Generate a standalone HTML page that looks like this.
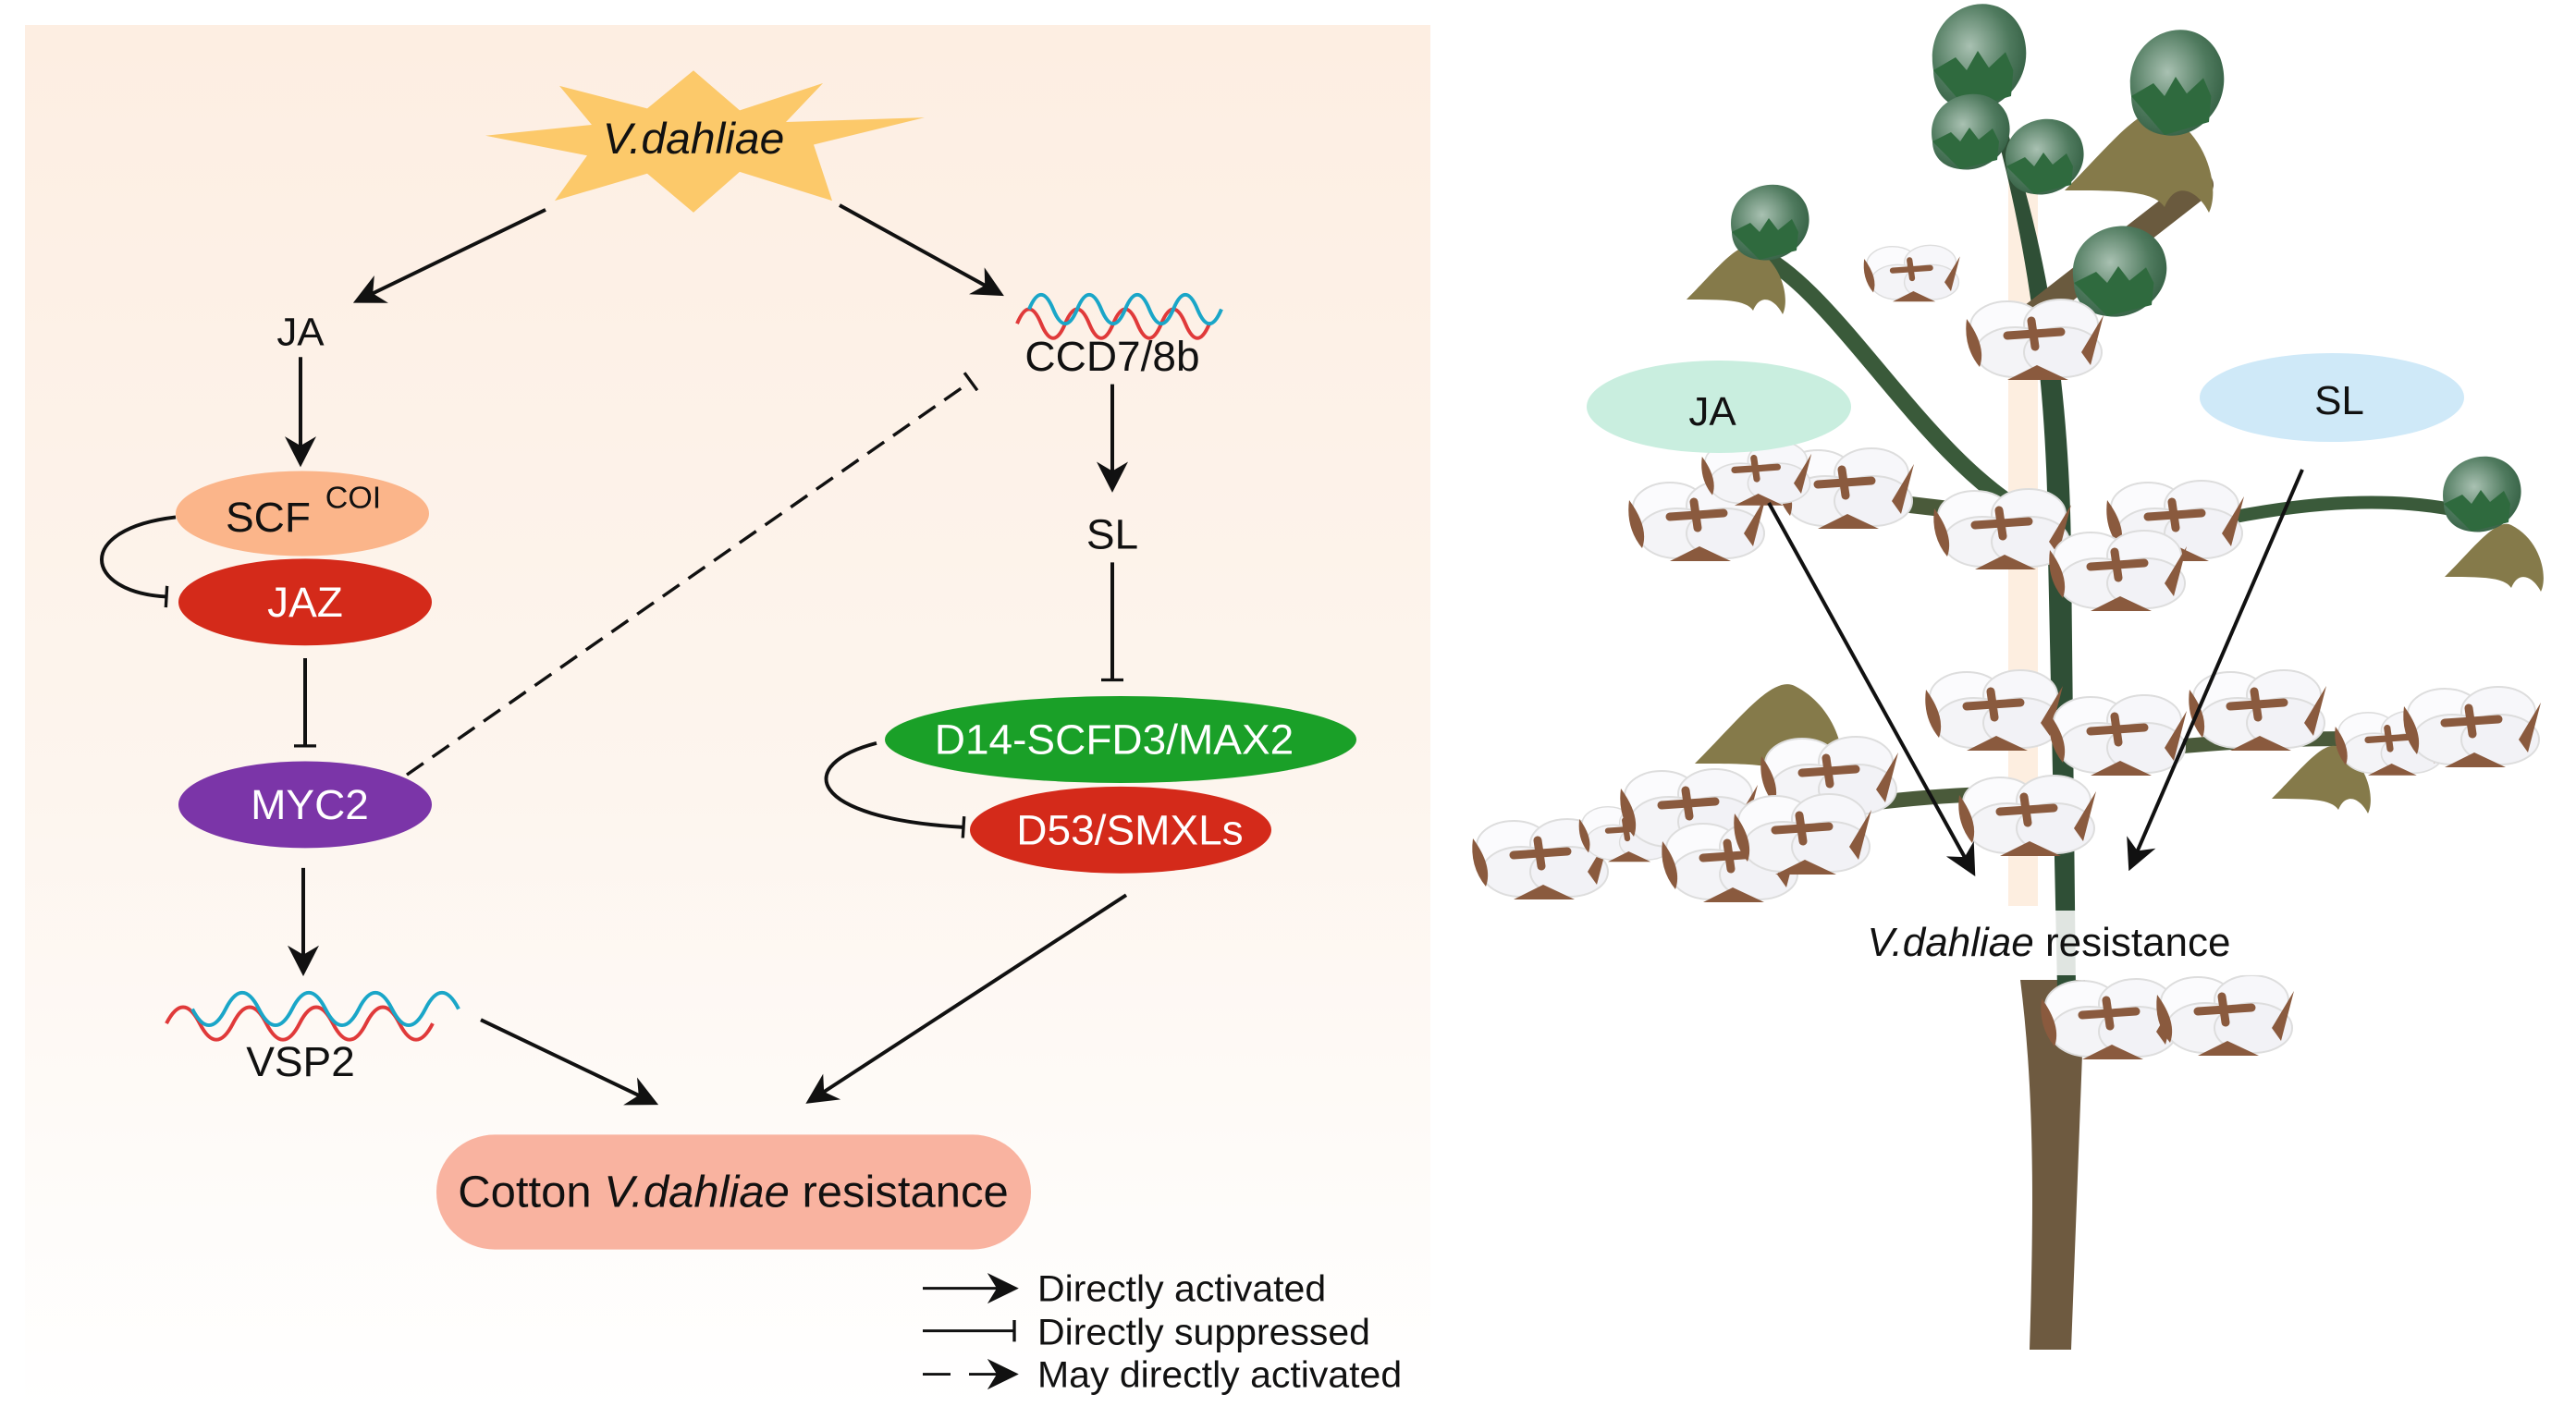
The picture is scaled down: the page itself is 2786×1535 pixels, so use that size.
<!DOCTYPE html>
<html><head><meta charset="utf-8"><style>
html,body{margin:0;padding:0;background:#fff}
svg{display:block}
text{font-family:"Liberation Sans",Arial,sans-serif}
</style></head><body>
<svg width="2786" height="1535" viewBox="0 0 2786 1535" xmlns="http://www.w3.org/2000/svg">
<defs>
<linearGradient id="bg" x1="0" y1="0" x2="0" y2="1">
<stop offset="0" stop-color="#fdeee2"/><stop offset="0.55" stop-color="#fdf5ee"/><stop offset="1" stop-color="#ffffff"/>
</linearGradient>
<marker id="ahb" viewBox="0 0 10 10" refX="8" refY="5" markerWidth="34" markerHeight="34" orient="auto" markerUnits="userSpaceOnUse">
<path d="M0,0 L10,5 L0,10 L3,5 z" fill="#111"/></marker>
<marker id="bar" viewBox="0 0 10 10" refX="5" refY="5" markerWidth="24" markerHeight="24" orient="auto" markerUnits="userSpaceOnUse">
<line x1="5" y1="0" x2="5" y2="10" stroke="#111" stroke-width="1.4"/></marker>
<radialGradient id="lf" cx="0.4" cy="0.4" r="0.7"><stop offset="0" stop-color="#a9c1b2"/><stop offset="0.6" stop-color="#4f7a5e"/><stop offset="1" stop-color="#2f5a3e"/></radialGradient>
<g id="boll">
<ellipse cx="-30" cy="-12" rx="40" ry="27" fill="#fbfbfd" stroke="#ddd" stroke-width="2"/>
<ellipse cx="28" cy="-14" rx="40" ry="27" fill="#f7f7fa" stroke="#ddd" stroke-width="2"/>
<ellipse cx="-22" cy="16" rx="42" ry="27" fill="#f4f4f7" stroke="#ddd" stroke-width="2"/>
<ellipse cx="30" cy="16" rx="42" ry="27" fill="#f2f2f6" stroke="#ddd" stroke-width="2"/>
<path d="M-74,-20 Q-52,10 -60,32 Q-78,10 -74,-20z" fill="#8a5a3e"/>
<path d="M74,-24 L60,30 L50,16z" fill="#8a5a3e"/>
<path d="M-30,46 L2,30 L36,46z" fill="#8a5a3e"/>
<path d="M-30,-2 L28,-6 M-4,-18 L0,10" stroke="#8a5a3e" stroke-width="9" stroke-linecap="round"/>
</g>
<g id="leaf"><path d="M-40,10 C-50,-40 20,-60 40,-20 C55,15 20,45 -10,40 C-30,38 -40,25 -40,10z" fill="url(#lf)"/><path d="M-40,10 L-20,0 -10,10 0,-5 10,8 25,-4 32,10 30,30 -10,40z" fill="#2f6a3e"/></g>
<g id="oleaf"><path d="M-70,30 C-30,-10 0,-50 20,-40 C60,-20 70,30 60,50 C50,30 30,20 20,45 C10,30 -20,30 -70,30z" fill="#857a4a"/></g>
</defs>

<rect x="27" y="27" width="1520" height="1500" fill="url(#bg)"/>

<g transform="matrix(1,0,0,0.978,0,0)">
<polygon points="750,78 800,122 890,92 850,135 1000,130 880,160 900,222 800,190 750,235 700,192 600,222 635,172 525,150 640,138 605,95 700,120" fill="#fcc96a"/>
<text x="750" y="170" font-size="48" font-style="italic" text-anchor="middle" fill="#111">V.dahliae</text>

<g stroke="#111" stroke-width="4" fill="none">
<line x1="590" y1="232" x2="388" y2="332" marker-end="url(#ahb)"/>
<line x1="908" y1="227" x2="1080" y2="324" marker-end="url(#ahb)"/>
<line x1="325" y1="395" x2="325" y2="510" marker-end="url(#ahb)"/>
<path d="M190,572 C80,585 90,655 180,660" marker-end="url(#bar)"/>
<line x1="330" y1="728" x2="330" y2="825" marker-end="url(#bar)"/>
<line x1="440" y1="857" x2="1050" y2="422" stroke-dasharray="22,12" stroke-width="3.5" marker-end="url(#bar)"/>
<line x1="328" y1="960" x2="328" y2="1073" marker-end="url(#ahb)"/>
<line x1="520" y1="1128" x2="706" y2="1219" marker-end="url(#ahb)"/>
<line x1="1203" y1="425" x2="1203" y2="538" marker-end="url(#ahb)"/>
<line x1="1203" y1="622" x2="1203" y2="752" marker-end="url(#bar)"/>
<path d="M948,822 C860,845 870,905 1042,915" marker-end="url(#bar)"/>
<line x1="1218" y1="990" x2="877" y2="1217" marker-end="url(#ahb)"/>
</g>

<text x="325" y="382" font-size="44" text-anchor="middle" fill="#111">JA</text>
<path d="M1100,358 q13,-32 26,0 t26,0 t26,0 t26,0 t26,0 t26,0 t26,0 t26,0" stroke="#e03a3a" stroke-width="4" fill="none"/>
<path d="M1120,358 q13,-32 26,0 t26,0 t26,0 t26,0 t26,0 t26,0 t26,0 t26,0" stroke="#1aa6c8" stroke-width="4" fill="none" transform="translate(-7,-16) scale(1,1)"/>
<text x="1203" y="410" font-size="46" text-anchor="middle" fill="#111">CCD7/8b</text>

<ellipse cx="327" cy="568" rx="137" ry="47" fill="#fbb58a"/>
<text x="290" y="588" font-size="46" text-anchor="middle" fill="#111">SCF</text>
<text x="382" y="562" font-size="34" text-anchor="middle" fill="#111">COI</text>
<ellipse cx="330" cy="666" rx="137" ry="48" fill="#d42a1a"/>
<text x="330" y="682" font-size="46" text-anchor="middle" fill="#fff">JAZ</text>
<ellipse cx="330" cy="890" rx="137" ry="48" fill="#7b35a8"/>
<text x="335" y="906" font-size="46" text-anchor="middle" fill="#fff">MYC2</text>

<path d="M180,1132 q18,-36 36,0 t36,0 t36,0 t36,0 t36,0 t36,0 t36,0 t36,0" stroke="#e03a3a" stroke-width="4" fill="none"/>
<path d="M208,1116 q18,36 36,0 t36,0 t36,0 t36,0 t36,0 t36,0 t36,0 t36,0" stroke="#1aa6c8" stroke-width="4" fill="none"/>
<text x="325" y="1190" font-size="46" text-anchor="middle" fill="#111">VSP2</text>

<text x="1203" y="607" font-size="46" text-anchor="middle" fill="#111">SL</text>
<ellipse cx="1212" cy="818" rx="255" ry="48" fill="#1aa028"/>
<text x="1205" y="834" font-size="46" text-anchor="middle" fill="#fff">D14-SCFD3/MAX2</text>
<ellipse cx="1212" cy="918" rx="163" ry="48" fill="#d42a1a"/>
<text x="1222" y="934" font-size="46" text-anchor="middle" fill="#fff">D53/SMXLs</text>

<rect x="472" y="1255" width="643" height="127" rx="63" fill="#f9b3a0"/>
<text x="793" y="1335" font-size="49" text-anchor="middle" fill="#111">Cotton <tspan font-style="italic">V.dahliae</tspan> resistance</text>

<g stroke="#111" stroke-width="3" fill="none">
<line x1="998" y1="1425" x2="1095" y2="1425" marker-end="url(#ahb)"/>
<line x1="998" y1="1472" x2="1097" y2="1472" marker-end="url(#bar)"/>
<line x1="998" y1="1520" x2="1095" y2="1520" stroke-dasharray="30,20" marker-end="url(#ahb)"/>
</g>
<g font-size="41" fill="#111">
<text x="1122" y="1439">Directly activated</text>
<text x="1122" y="1487">Directly suppressed</text>
<text x="1122" y="1534">May directly activated</text>
</g>
</g>

<!-- right panel plant -->
<rect x="2172" y="150" width="32" height="830" fill="#fdeee0"/>
<path d="M2185,1060 L2255,1060 L2240,1460 L2195,1460 C2200,1300 2200,1180 2185,1060z" fill="#6e5a40"/>
<path d="M2150,110 C2190,250 2215,400 2215,600 L2225,1070 L2245,1070 L2240,600 C2238,400 2210,250 2160,110z" fill="#2f4f36"/>
<g fill="none" stroke-linecap="round">
<path d="M2200,340 L2380,200" stroke="#6a5a3e" stroke-width="28"/>
<path d="M2200,560 C2080,500 1980,300 1890,270" stroke="#3a5a3a" stroke-width="18"/>
<path d="M2220,560 C2120,560 1960,520 1820,540" stroke="#4a5a3a" stroke-width="18"/>
<path d="M2240,600 C2400,560 2550,520 2690,560" stroke="#3a5a3a" stroke-width="14"/>
<path d="M2240,820 C2400,800 2550,790 2700,810" stroke="#4a5a3a" stroke-width="16"/>
<path d="M2220,860 C2050,850 1850,900 1680,920" stroke="#4a5a3a" stroke-width="16"/>
</g>
<use href="#oleaf" transform="translate(2317,170) scale(1.2)"/>
<use href="#oleaf" transform="translate(1880,300) scale(0.8)"/>
<use href="#oleaf" transform="translate(1917,790) scale(1.2)"/>
<use href="#oleaf" transform="translate(2700,600) scale(0.8)"/>
<use href="#oleaf" transform="translate(2513,840) scale(0.8)"/>
<use href="#leaf" transform="translate(2139,62) scale(1.2,1.4)"/>
<use href="#leaf" transform="translate(2353,90) scale(1.2,1.4)"/>
<use href="#leaf" transform="translate(2130,143)"/>
<use href="#leaf" transform="translate(2210,170)"/>
<use href="#leaf" transform="translate(1913,241)"/>
<use href="#leaf" transform="translate(2291,294) scale(1.2)"/>
<use href="#leaf" transform="translate(2683,535)"/>
<use href="#boll" transform="translate(2068,294) scale(0.7)"/>
<use href="#boll" transform="translate(2201,365)"/>
<use href="#boll" transform="translate(1836,561)"/>
<use href="#boll" transform="translate(1996,526)"/>
<use href="#boll" transform="translate(1900,510) scale(0.8)"/>
<use href="#boll" transform="translate(2166,570)"/>
<use href="#boll" transform="translate(2353,561)"/>
<use href="#boll" transform="translate(2291,615)"/>
<use href="#boll" transform="translate(2157,766)"/>
<use href="#boll" transform="translate(2291,793)"/>
<use href="#boll" transform="translate(2442,766)"/>
<use href="#boll" transform="translate(2585,802) scale(0.8)"/>
<use href="#boll" transform="translate(2674,784)"/>
<use href="#boll" transform="translate(1667,927)"/>
<use href="#boll" transform="translate(1760,900) scale(0.7)"/>
<use href="#boll" transform="translate(1827,873)"/>
<use href="#boll" transform="translate(1872,930)"/>
<use href="#boll" transform="translate(1979,838)"/>
<use href="#boll" transform="translate(1950,900)"/>
<use href="#boll" transform="translate(2193,880)"/>
<use href="#boll" transform="translate(2282,1100)"/>
<use href="#boll" transform="translate(2407,1096)"/>
<rect x="1950" y="985" width="500" height="70" fill="#fff" opacity="0.85"/>

<ellipse cx="1859" cy="440" rx="143" ry="50" fill="#c9eedf"/>
<text x="1852" y="460" font-size="44" text-anchor="middle" fill="#111">JA</text>
<ellipse cx="2522" cy="430" rx="143" ry="48" fill="#cfe9f8"/>
<text x="2530" y="448" font-size="44" text-anchor="middle" fill="#111">SL</text>
<g stroke="#111" stroke-width="4">
<line x1="1913" y1="544" x2="2133" y2="942" marker-end="url(#ahb)"/>
<line x1="2490" y1="508" x2="2305" y2="936" marker-end="url(#ahb)"/>
</g>
<text x="2216" y="1034" font-size="44" text-anchor="middle" fill="#111"><tspan font-style="italic">V.dahliae</tspan> resistance</text>
</svg>
</body></html>
